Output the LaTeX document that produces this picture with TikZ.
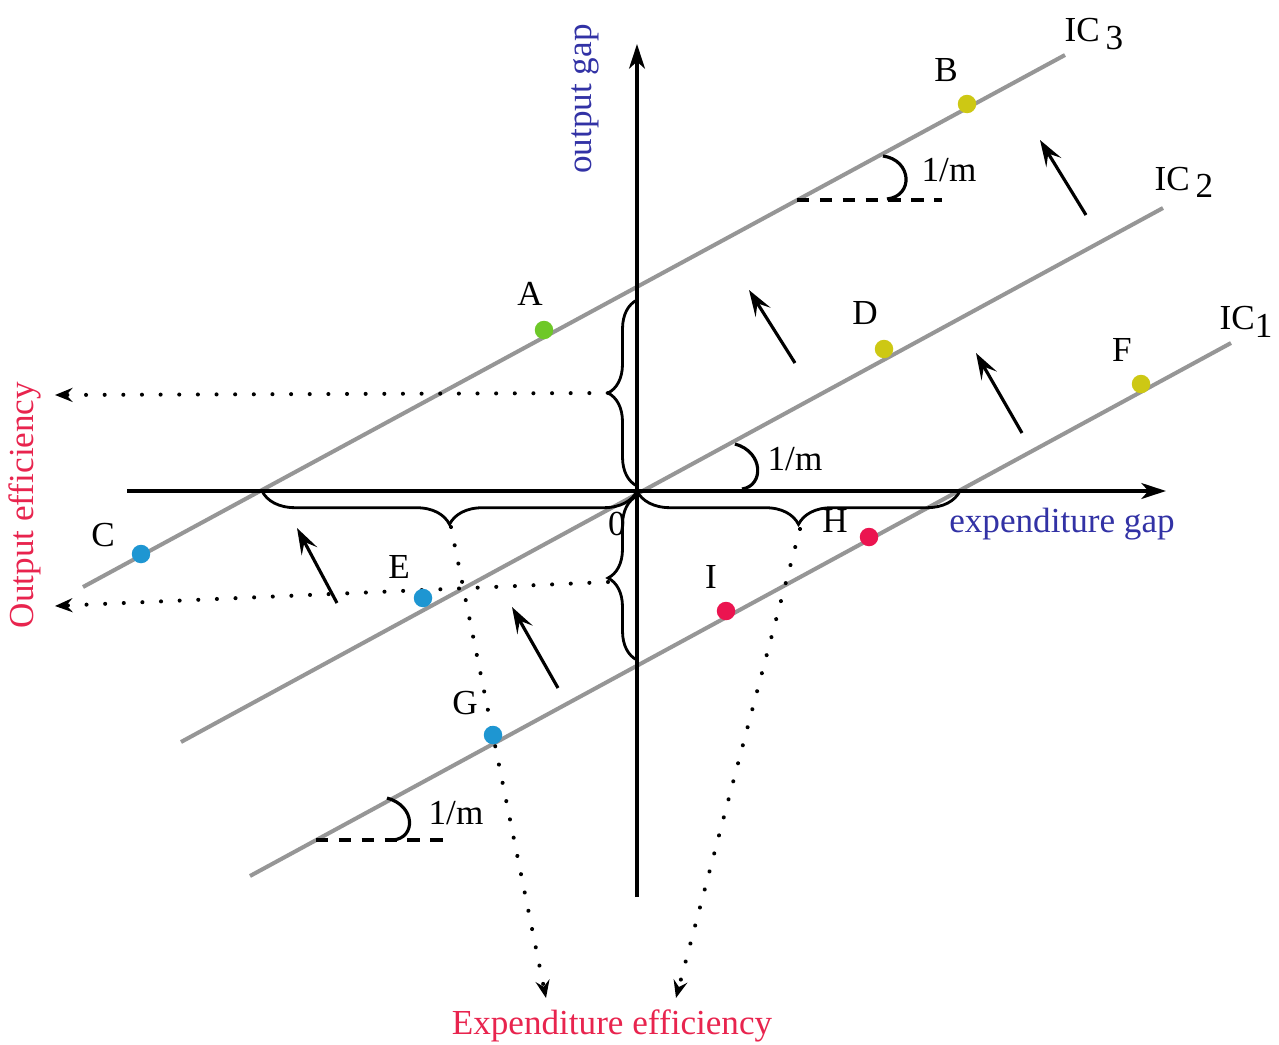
\documentclass[tikz,border=0pt]{standalone}
\usepackage{fontspec}
\setmainfont{Liberation Serif}
\usetikzlibrary{arrows.meta,decorations.pathreplacing}
\definecolor{icgray}{RGB}{150,150,150}
\definecolor{ptgreen}{RGB}{110,200,40}
\definecolor{ptyellow}{RGB}{205,200,20}
\definecolor{ptblue}{RGB}{30,150,210}
\definecolor{ptred}{RGB}{235,20,80}
\definecolor{txtblue}{RGB}{50,50,165}
\definecolor{txtred}{RGB}{232,36,78}
\tikzset{
  axisline/.style={line width=2.2pt,-{Stealth[length=14pt,width=9pt,inset=4pt]}},
  icline/.style={icgray,line width=2.3pt},
  pt/.style={circle,inner sep=0pt,minimum size=0.37cm},
  lbl/.style={inner sep=1pt},
  dotline/.style={line width=2.3pt,line cap=round,dash pattern=on 0.01pt off 10.6pt,
     -{Stealth[length=10pt,width=8pt,inset=3.5pt]}},
  shiftarrow/.style={line width=1.8pt,-{Stealth[length=15pt,width=10pt,inset=6pt]}},
  bracev/.style={decorate,decoration={brace,amplitude=16.5pt},line width=1.6pt},
  braceh/.style={decorate,decoration={brace,amplitude=19pt},line width=1.6pt},
  anglearc/.style={line width=1.8pt},
  dashref/.style={line width=1.8pt,dash pattern=on 7pt off 6pt},
}
\begin{document}
\begin{tikzpicture}[x=0.02cm,y=-0.02cm,font=\fontsize{20}{24}\selectfont]
\useasboundingbox (0,0) rectangle (1279,1045);
% indifference curves
\coordinate (ic3a) at (83,587);  \coordinate (ic3b) at (1065,55);
\coordinate (ic2a) at (181,742); \coordinate (ic2b) at (1163,208);
\coordinate (ic1a) at (250,876); \coordinate (ic1b) at (1231,343);
\draw[icline] (ic3a) -- (ic3b);
\draw[icline] (ic2a) -- (ic2b);
\draw[icline] (ic1a) -- (ic1b);
% axes
\coordinate (xl) at (127,491); \coordinate (xr) at (1166,491);
\coordinate (yb) at (637,897); \coordinate (yt) at (637,44);
\coordinate (O) at (637,491);
\draw[axisline] (xl) -- (xr);
\draw[axisline] (yb) -- (yt);
% braces
\draw[bracev] (637,486) -- (637,300);
\draw[bracev] (637,660) -- (637,496);
\draw[braceh] (637,491) -- (262,491);
\draw[braceh] (960,491) -- (637,491);
\coordinate (tv1) at (608,393);
\coordinate (tv2) at (608,582);
\coordinate (th1) at (451,527);
\coordinate (th2) at (800,529);
% dotted projections
\coordinate (oe1) at (55,395);
\coordinate (oe2) at (55,606);
\coordinate (ee1) at (546,998);
\coordinate (ee2) at (676,998);
\draw[dotline] (tv1) -- (oe1);
\draw[dotline] (tv2) -- (oe2);
\draw[dotline] (th1) -- (ee1);
\draw[dotline] (th2) -- (ee2);
% slope markers
\coordinate (s3) at (797,200); \coordinate (s3e) at (942,200);
\draw[dashref] (s3) -- (s3e);
\draw[anglearc] (883,156) .. controls (912,160) and (914,196) .. (887,199);
\coordinate (s1) at (316,840); \coordinate (s1e) at (447,840);
\draw[dashref] (s1) -- (s1e);
\draw[anglearc] (387,798) .. controls (416,806) and (416,838) .. (393,840);
\draw[anglearc] (735,444) .. controls (764,452) and (764,486) .. (742,489);
\node[lbl] (m3) at (949,170) {1/m};
\node[lbl] (m2) at (795,459) {1/m};
\node[lbl] (m1) at (456,813) {1/m};
% shift arrows
\coordinate (a1s) at (1086,215); \coordinate (a1e) at (1040,140);
\coordinate (a2s) at (795,363);  \coordinate (a2e) at (749,290);
\coordinate (a3s) at (1022,433); \coordinate (a3e) at (976,353);
\coordinate (a4s) at (337,603);  \coordinate (a4e) at (297,528);
\coordinate (a5s) at (558,688);  \coordinate (a5e) at (512,607);
\foreach \k in {1,...,5} \draw[shiftarrow] (a\k s) -- (a\k e);
% points
\node[pt,fill=ptgreen]  (A) at (544,330) {};
\node[pt,fill=ptyellow] (B) at (967,104) {};
\node[pt,fill=ptblue]   (C) at (141,554) {};
\node[pt,fill=ptyellow] (D) at (884,349) {};
\node[pt,fill=ptblue]   (E) at (423,598) {};
\node[pt,fill=ptyellow] (F) at (1141,384) {};
\node[pt,fill=ptblue]   (G) at (493,735) {};
\node[pt,fill=ptred]    (H) at (869,537) {};
\node[pt,fill=ptred]    (I) at (726,611) {};
\node[lbl] (lA) at (530,294) {A};
\node[lbl] (lB) at (946,70) {B};
\node[lbl] (lC) at (103,535) {C};
\node[lbl] (lD) at (865,313) {D};
\node[lbl] (lE) at (399,567) {E};
\node[lbl] (lF) at (1122,350) {F};
\node[lbl] (lG) at (465,703) {G};
\node[lbl] (lH) at (835,521) {H};
\node[lbl] (lI) at (711,577) {I};
\node[lbl] (l0) at (617,524) {0};
% curve labels
\node[lbl] (ic3) at (1094,34) {IC\,\raisebox{-0.45ex}{3}};
\node[lbl] (ic2) at (1184,182) {IC\,\raisebox{-0.45ex}{2}};
\node[lbl] (ic1) at (1246,322) {IC\raisebox{-0.5ex}{1}};
% axis titles
\node[lbl,txtblue,rotate=90] (yg) at (585,99) {output gap};
\node[lbl,txtblue] (xg) at (1062,524) {expenditure gap};
\node[lbl,txtred,rotate=90] (oe) at (25,505) {Output efficiency};
\node[lbl,txtred] (ee) at (612,1026) {Expenditure efficiency};
\end{tikzpicture}
\end{document}
